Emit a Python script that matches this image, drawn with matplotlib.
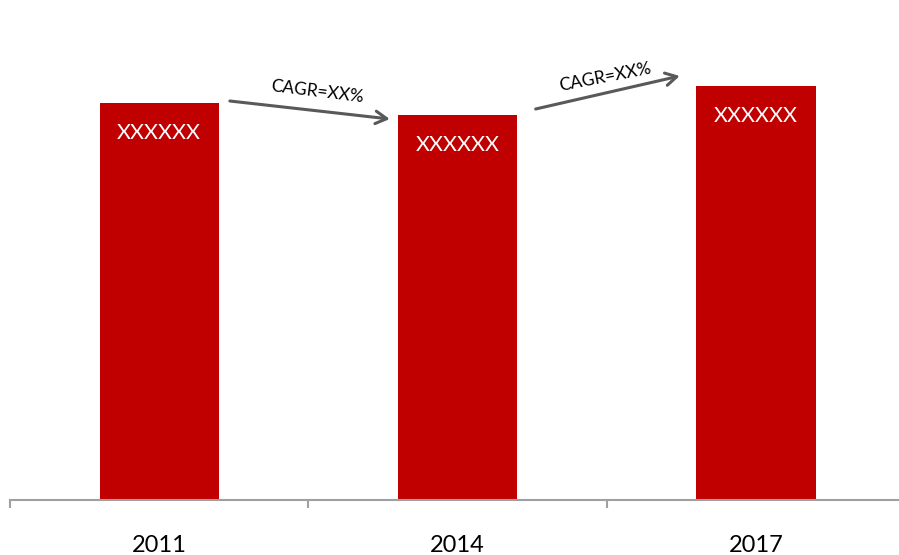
import matplotlib.pyplot as plt
from matplotlib.ticker import FixedLocator

years = ["2011", "2014", "2017"]
values = [397, 385, 414]
bar_labels = ["XXXXXX", "XXXXXX", "XXXXXX"]
cagr_labels = ["CAGR=XX%", "CAGR=XX%"]

plt.rcParams['font.family'] = ['Lato', 'DejaVu Sans']

fig = plt.figure(figsize=(8.99, 5.55), dpi=100)
ax = fig.add_axes([10 / 899, 55 / 555, 895 / 899, 500 / 555])

x = range(len(years))
ax.bar(x, values, width=0.40, color="#C00000", zorder=2)

for xi, v, lab in zip(x, values, bar_labels):
    ax.text(xi, v - 30, lab, color="white", fontsize=15.5,
            ha="center", va="center")

ax.set_xlim(-0.5, 2.5)
ax.set_ylim(0, 500)

# CAGR arrows between bars
arrow_kw = dict(arrowstyle="->,head_length=0.8,head_width=0.45",
                color="#595959", lw=2.2, shrinkA=0, shrinkB=0)
ax.annotate("", xy=(0.773, 381), xytext=(0.237, 399), arrowprops=arrow_kw)
ax.annotate("", xy=(1.745, 424), xytext=(1.262, 391), arrowprops=arrow_kw)
ax.text(0.528, 408, cagr_labels[0], fontsize=12.5, rotation=-7,
        ha="center", va="center", rotation_mode="anchor")
ax.text(1.493, 423, cagr_labels[1], fontsize=12.5, rotation=11,
        ha="center", va="center", rotation_mode="anchor")

for side in ["top", "right", "left"]:
    ax.spines[side].set_visible(False)
ax.spines["bottom"].set_color("#A0A0A0")
ax.spines["bottom"].set_linewidth(1.5)

ax.set_yticks([])
ax.xaxis.set_major_locator(FixedLocator([-0.5, 0.5, 1.5, 2.5]))
ax.xaxis.set_minor_locator(FixedLocator(list(x)))
ax.set_xticklabels([], minor=False)
ax.set_xticklabels(years, minor=True)
ax.tick_params(axis="x", which="major", direction="out", length=6,
               width=1.5, color="#A0A0A0")
ax.tick_params(axis="x", which="minor", length=0, pad=25, labelsize=17)

fig.savefig("out.png", dpi=100)
